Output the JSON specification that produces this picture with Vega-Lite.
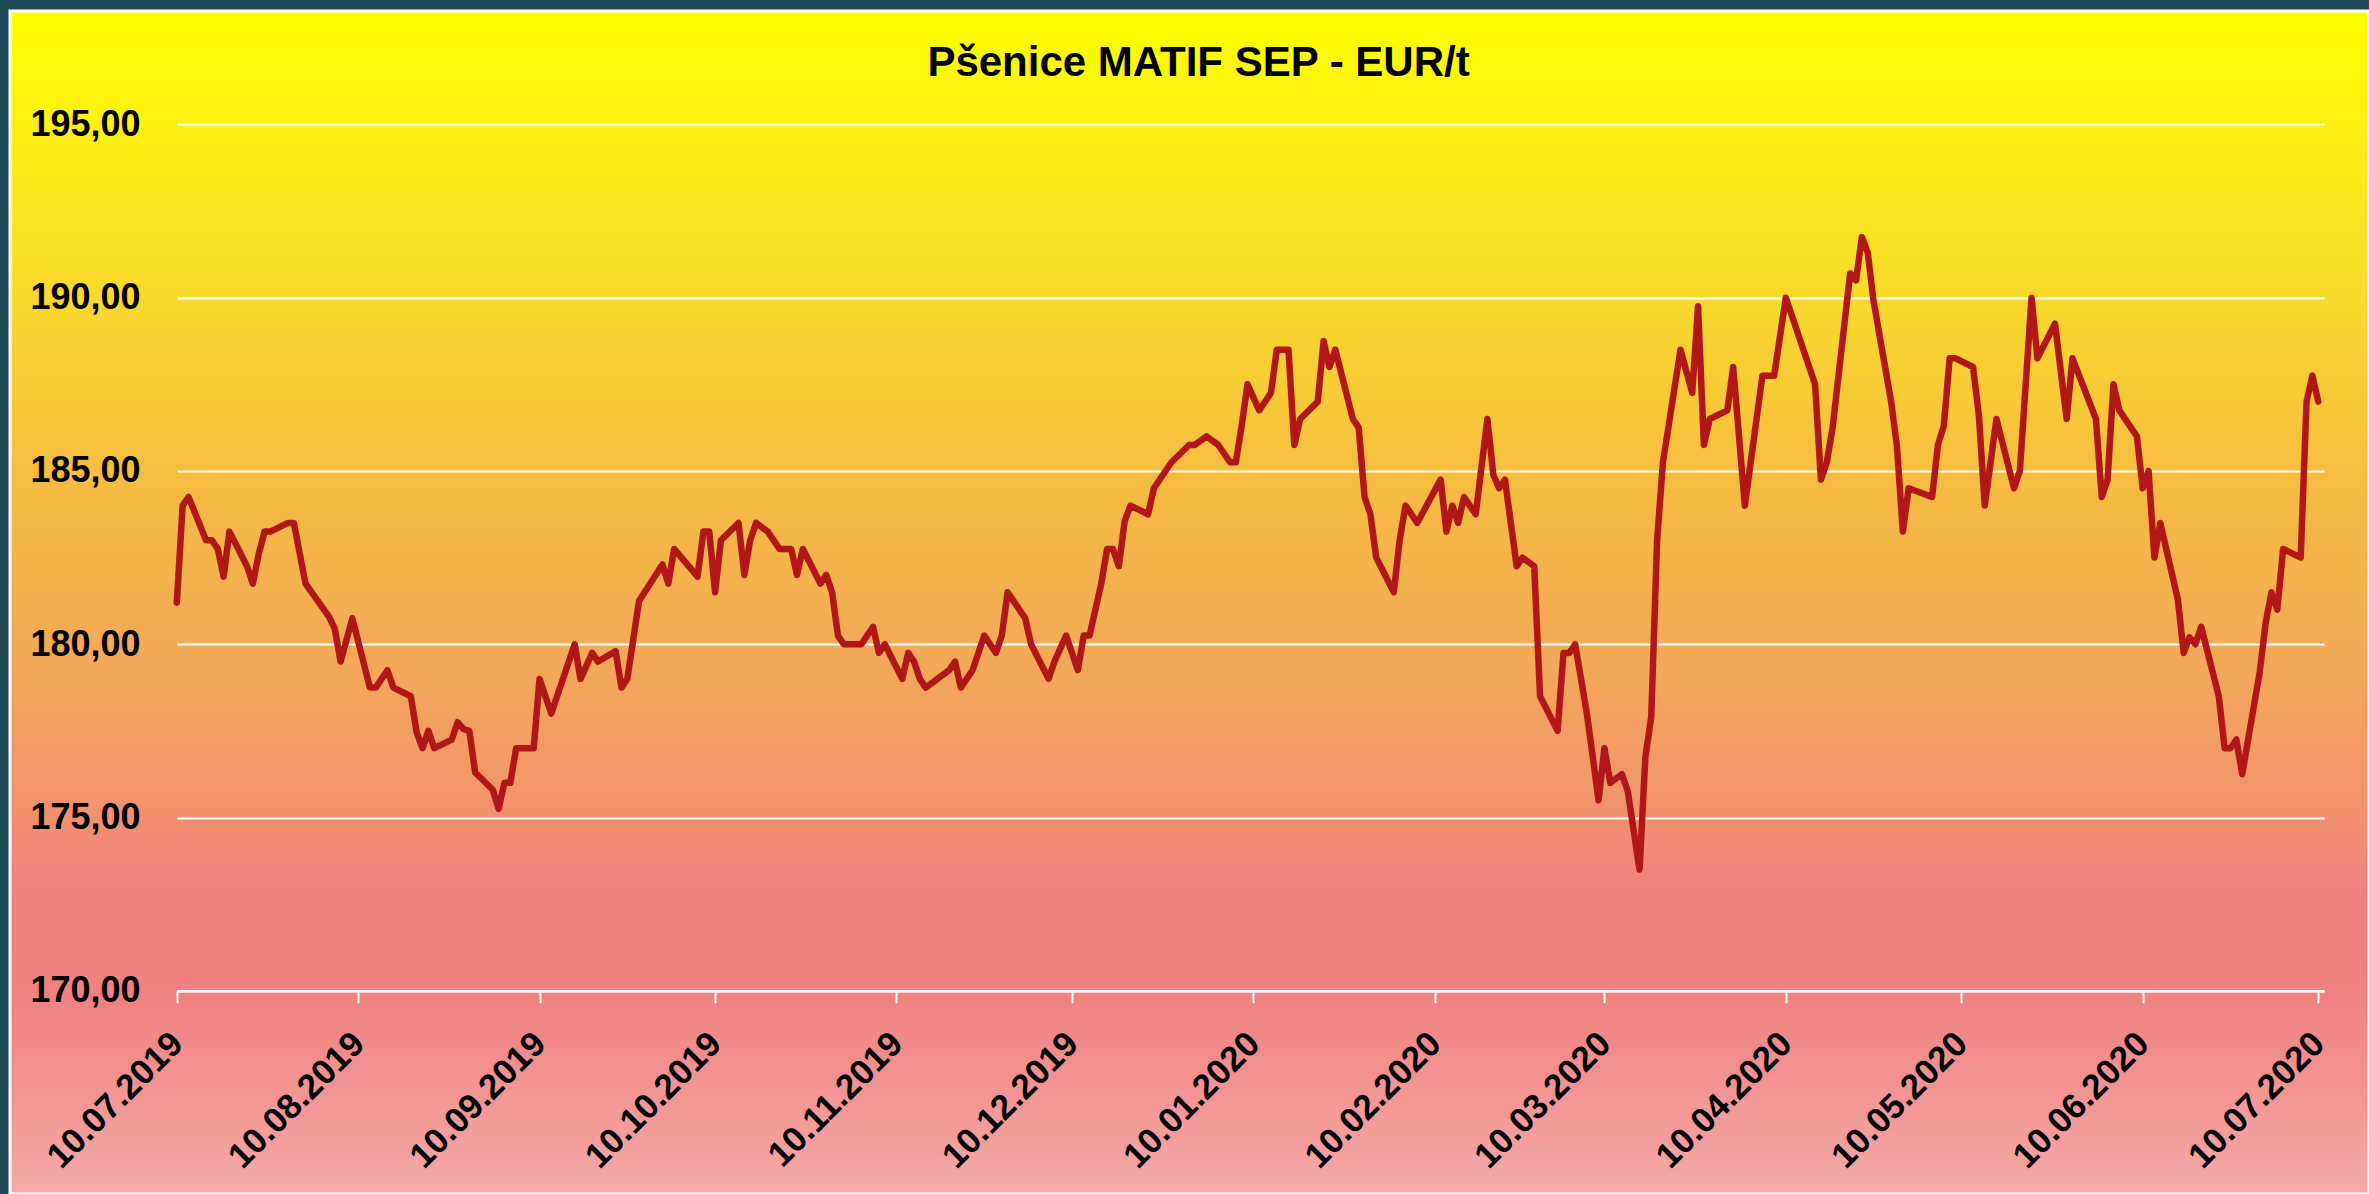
{
  "$schema": "https://vega.github.io/schema/vega-lite/v6.json",
  "width": 2359,
  "height": 1183,
  "autosize": {"type": "none"},
  "padding": {"left": 10, "top": 11, "right": 0, "bottom": 0},
  "background": "#1d4b58",
  "title": {"text": "Pšenice MATIF SEP - EUR/t", "anchor": "middle", "frame": "group", "offset": -107, "baseline": "alphabetic", "dx": 9, "font": "Liberation Sans", "fontSize": 42, "fontWeight": "bold", "color": "#000000"},
  "data": {"values": [
    {"date":"2019-07-10","price":181.2},{"date":"2019-07-11","price":184.0},{"date":"2019-07-12","price":184.25},
    {"date":"2019-07-15","price":183.0},{"date":"2019-07-16","price":183.0},{"date":"2019-07-17","price":182.75},
    {"date":"2019-07-18","price":181.95},{"date":"2019-07-19","price":183.25},{"date":"2019-07-22","price":182.25},
    {"date":"2019-07-23","price":181.75},{"date":"2019-07-24","price":182.6},{"date":"2019-07-25","price":183.25},
    {"date":"2019-07-26","price":183.25},{"date":"2019-07-29","price":183.5},{"date":"2019-07-30","price":183.5},
    {"date":"2019-08-01","price":181.75},{"date":"2019-08-05","price":180.8},{"date":"2019-08-06","price":180.45},
    {"date":"2019-08-07","price":179.5},{"date":"2019-08-09","price":180.75},{"date":"2019-08-12","price":178.75},
    {"date":"2019-08-13","price":178.75},{"date":"2019-08-15","price":179.25},{"date":"2019-08-16","price":178.75},
    {"date":"2019-08-19","price":178.5},{"date":"2019-08-20","price":177.45},{"date":"2019-08-21","price":177.0},
    {"date":"2019-08-22","price":177.5},{"date":"2019-08-23","price":177.0},{"date":"2019-08-26","price":177.25},
    {"date":"2019-08-27","price":177.75},{"date":"2019-08-28","price":177.55},{"date":"2019-08-29","price":177.5},
    {"date":"2019-08-30","price":176.3},{"date":"2019-09-02","price":175.8},{"date":"2019-09-03","price":175.25},
    {"date":"2019-09-04","price":176.0},{"date":"2019-09-05","price":176.0},{"date":"2019-09-06","price":177.0},
    {"date":"2019-09-09","price":177.0},{"date":"2019-09-10","price":179.0},{"date":"2019-09-12","price":178.0},
    {"date":"2019-09-16","price":180.0},{"date":"2019-09-17","price":179.0},{"date":"2019-09-19","price":179.75},
    {"date":"2019-09-20","price":179.5},{"date":"2019-09-23","price":179.8},{"date":"2019-09-24","price":178.75},
    {"date":"2019-09-25","price":179.0},{"date":"2019-09-27","price":181.25},{"date":"2019-10-01","price":182.3},
    {"date":"2019-10-02","price":181.75},{"date":"2019-10-03","price":182.75},{"date":"2019-10-07","price":181.95},
    {"date":"2019-10-08","price":183.25},{"date":"2019-10-09","price":183.25},{"date":"2019-10-10","price":181.5},
    {"date":"2019-10-11","price":183.0},{"date":"2019-10-14","price":183.5},{"date":"2019-10-15","price":182.0},
    {"date":"2019-10-16","price":183.0},{"date":"2019-10-17","price":183.5},{"date":"2019-10-19","price":183.25},
    {"date":"2019-10-21","price":182.75},{"date":"2019-10-23","price":182.75},{"date":"2019-10-24","price":182.0},
    {"date":"2019-10-25","price":182.75},{"date":"2019-10-28","price":181.75},{"date":"2019-10-29","price":182.0},
    {"date":"2019-10-30","price":181.5},{"date":"2019-10-31","price":180.25},{"date":"2019-11-01","price":180.0},
    {"date":"2019-11-04","price":180.0},{"date":"2019-11-06","price":180.5},{"date":"2019-11-07","price":179.75},
    {"date":"2019-11-08","price":180.0},{"date":"2019-11-11","price":179.0},{"date":"2019-11-12","price":179.75},
    {"date":"2019-11-13","price":179.5},{"date":"2019-11-14","price":179.0},{"date":"2019-11-15","price":178.75},
    {"date":"2019-11-19","price":179.25},{"date":"2019-11-20","price":179.5},{"date":"2019-11-21","price":178.75},
    {"date":"2019-11-23","price":179.25},{"date":"2019-11-25","price":180.25},{"date":"2019-11-27","price":179.75},
    {"date":"2019-11-28","price":180.25},{"date":"2019-11-29","price":181.5},{"date":"2019-12-02","price":180.75},
    {"date":"2019-12-03","price":180.0},{"date":"2019-12-06","price":179.0},{"date":"2019-12-07","price":179.5},
    {"date":"2019-12-09","price":180.25},{"date":"2019-12-11","price":179.25},{"date":"2019-12-12","price":180.25},
    {"date":"2019-12-13","price":180.25},{"date":"2019-12-15","price":181.75},{"date":"2019-12-16","price":182.75},
    {"date":"2019-12-17","price":182.75},{"date":"2019-12-18","price":182.25},{"date":"2019-12-19","price":183.55},
    {"date":"2019-12-20","price":184.0},{"date":"2019-12-23","price":183.75},{"date":"2019-12-24","price":184.5},
    {"date":"2019-12-27","price":185.25},{"date":"2019-12-30","price":185.75},{"date":"2019-12-31","price":185.75},
    {"date":"2020-01-02","price":186.0},{"date":"2020-01-04","price":185.75},{"date":"2020-01-06","price":185.25},
    {"date":"2020-01-07","price":185.25},{"date":"2020-01-08","price":186.3},{"date":"2020-01-09","price":187.5},
    {"date":"2020-01-11","price":186.75},{"date":"2020-01-13","price":187.25},{"date":"2020-01-14","price":188.5},
    {"date":"2020-01-16","price":188.5},{"date":"2020-01-17","price":185.75},{"date":"2020-01-18","price":186.5},
    {"date":"2020-01-21","price":187.0},{"date":"2020-01-22","price":188.75},{"date":"2020-01-23","price":188.0},
    {"date":"2020-01-24","price":188.5},{"date":"2020-01-27","price":186.5},{"date":"2020-01-28","price":186.25},
    {"date":"2020-01-29","price":184.25},{"date":"2020-01-30","price":183.75},{"date":"2020-01-31","price":182.5},
    {"date":"2020-02-03","price":181.5},{"date":"2020-02-04","price":183.0},{"date":"2020-02-05","price":184.0},
    {"date":"2020-02-07","price":183.5},{"date":"2020-02-11","price":184.75},{"date":"2020-02-12","price":183.25},
    {"date":"2020-02-13","price":184.0},{"date":"2020-02-14","price":183.5},{"date":"2020-02-15","price":184.25},
    {"date":"2020-02-17","price":183.75},{"date":"2020-02-19","price":186.5},{"date":"2020-02-20","price":184.9},
    {"date":"2020-02-21","price":184.5},{"date":"2020-02-22","price":184.75},{"date":"2020-02-24","price":182.25},
    {"date":"2020-02-25","price":182.5},{"date":"2020-02-27","price":182.25},{"date":"2020-02-28","price":178.5},
    {"date":"2020-03-02","price":177.5},{"date":"2020-03-03","price":179.75},{"date":"2020-03-04","price":179.75},
    {"date":"2020-03-05","price":180.0},{"date":"2020-03-07","price":178.0},{"date":"2020-03-09","price":175.5},
    {"date":"2020-03-10","price":177.0},{"date":"2020-03-11","price":176.0},{"date":"2020-03-13","price":176.25},
    {"date":"2020-03-14","price":175.75},{"date":"2020-03-16","price":173.5},{"date":"2020-03-17","price":176.75},
    {"date":"2020-03-18","price":177.9},{"date":"2020-03-19","price":183.0},{"date":"2020-03-20","price":185.25},
    {"date":"2020-03-23","price":188.5},{"date":"2020-03-25","price":187.25},{"date":"2020-03-26","price":189.75},
    {"date":"2020-03-27","price":185.75},{"date":"2020-03-28","price":186.5},{"date":"2020-03-31","price":186.75},
    {"date":"2020-04-01","price":188.0},{"date":"2020-04-03","price":184.0},{"date":"2020-04-06","price":187.75},
    {"date":"2020-04-08","price":187.75},{"date":"2020-04-10","price":190.0},{"date":"2020-04-15","price":187.5},
    {"date":"2020-04-16","price":184.75},{"date":"2020-04-17","price":185.25},{"date":"2020-04-18","price":186.25},
    {"date":"2020-04-21","price":190.7},{"date":"2020-04-22","price":190.5},{"date":"2020-04-23","price":191.75},
    {"date":"2020-04-24","price":191.3},{"date":"2020-04-25","price":189.9},{"date":"2020-04-28","price":187.0},
    {"date":"2020-04-29","price":185.7},{"date":"2020-04-30","price":183.25},{"date":"2020-05-01","price":184.5},
    {"date":"2020-05-05","price":184.25},{"date":"2020-05-06","price":185.75},{"date":"2020-05-07","price":186.3},
    {"date":"2020-05-08","price":188.25},{"date":"2020-05-09","price":188.25},{"date":"2020-05-12","price":188.0},
    {"date":"2020-05-13","price":186.6},{"date":"2020-05-14","price":184.0},{"date":"2020-05-16","price":186.5},
    {"date":"2020-05-19","price":184.5},{"date":"2020-05-20","price":185.0},{"date":"2020-05-22","price":190.0},
    {"date":"2020-05-23","price":188.25},{"date":"2020-05-26","price":189.25},{"date":"2020-05-28","price":186.5},
    {"date":"2020-05-29","price":188.25},{"date":"2020-06-02","price":186.5},{"date":"2020-06-03","price":184.25},
    {"date":"2020-06-04","price":184.75},{"date":"2020-06-05","price":187.5},{"date":"2020-06-06","price":186.75},
    {"date":"2020-06-09","price":186.0},{"date":"2020-06-10","price":184.5},{"date":"2020-06-11","price":185.0},
    {"date":"2020-06-12","price":182.5},{"date":"2020-06-13","price":183.5},{"date":"2020-06-16","price":181.3},
    {"date":"2020-06-17","price":179.75},{"date":"2020-06-18","price":180.2},{"date":"2020-06-19","price":180.0},
    {"date":"2020-06-20","price":180.5},{"date":"2020-06-23","price":178.5},{"date":"2020-06-24","price":177.0},
    {"date":"2020-06-25","price":177.0},{"date":"2020-06-26","price":177.25},{"date":"2020-06-27","price":176.25},
    {"date":"2020-06-30","price":179.2},{"date":"2020-07-01","price":180.6},{"date":"2020-07-02","price":181.5},
    {"date":"2020-07-03","price":181.0},{"date":"2020-07-04","price":182.75},{"date":"2020-07-07","price":182.5},
    {"date":"2020-07-08","price":187.0},{"date":"2020-07-09","price":187.75},{"date":"2020-07-10","price":187.0}
  ]},
  "mark": {"type": "line", "color": "#b21717", "strokeWidth": 6.5, "strokeJoin": "round", "strokeCap": "round", "clip": false},
  "encoding": {
    "x": {
      "field": "date", "type": "temporal",
      "scale": {"type": "utc", "domain": [{"year": 2019, "month": 7, "date": 10, "utc": true}, {"year": 2020, "month": 7, "date": 11, "utc": true}], "range": [166.8, 2314.1], "nice": false},
      "axis": {
        "values": [
          {"year": 2019, "month": 7, "date": 10, "utc": true}, {"year": 2019, "month": 8, "date": 10, "utc": true},
          {"year": 2019, "month": 9, "date": 10, "utc": true}, {"year": 2019, "month": 10, "date": 10, "utc": true},
          {"year": 2019, "month": 11, "date": 10, "utc": true}, {"year": 2019, "month": 12, "date": 10, "utc": true},
          {"year": 2020, "month": 1, "date": 10, "utc": true}, {"year": 2020, "month": 2, "date": 10, "utc": true},
          {"year": 2020, "month": 3, "date": 10, "utc": true}, {"year": 2020, "month": 4, "date": 10, "utc": true},
          {"year": 2020, "month": 5, "date": 10, "utc": true}, {"year": 2020, "month": 6, "date": 10, "utc": true},
          {"year": 2020, "month": 7, "date": 10, "utc": true}
        ],
        "format": "%d.%m.%Y",
        "labelAngle": -45, "labelAlign": "right", "labelBaseline": "middle", "labelPadding": 35,
        "labelFont": "Liberation Sans", "labelFontSize": 35, "labelFontWeight": "bold", "labelColor": "#000000",
        "labelOverlap": false, "labelFlush": false, "labelBound": false,
        "domainColor": "#ffffff", "domainWidth": 2.5, "tickColor": "#ffffff", "tickWidth": 2, "tickSize": 12,
        "grid": false, "title": null, "offset": -203.2
      }
    },
    "y": {
      "field": "price", "type": "quantitative",
      "scale": {"domain": [170, 195], "range": [979.8, 113.4], "nice": false, "zero": false},
      "axis": {
        "values": [170, 175, 180, 185, 190, 195],
        "labelExpr": "replace(format(datum.value, '.2f'), '.', ',')",
        "labelPadding": 36.8, "labelAlign": "right", "labelBaseline": "middle",
        "labelFont": "Liberation Sans", "labelFontSize": 36, "labelFontWeight": "bold", "labelColor": "#000000",
        "labelOverlap": false, "labelFlush": false,
        "domain": false, "ticks": false, "tickSize": 0,
        "grid": true, "gridColor": "#ffffff", "gridWidth": 2, "gridOpacity": 1,
        "title": null, "offset": -166.8
      }
    }
  },
  "config": {
    "view": {
      "fill": {"gradient": "linear", "x1": 0, "y1": 0, "x2": 0, "y2": 1, "stops": [
        {"offset": 0, "color": "#ffff00"},
        {"offset": 0.244, "color": "#f9d92c"},
        {"offset": 0.396, "color": "#f6bc40"},
        {"offset": 0.549, "color": "#f3a958"},
        {"offset": 0.667, "color": "#f1946c"},
        {"offset": 0.751, "color": "#f08080"},
        {"offset": 0.836, "color": "#f08282"},
        {"offset": 1, "color": "#f6a9a9"}
      ]},
      "stroke": "#ffffff",
      "strokeWidth": 3
    }
  }
}
